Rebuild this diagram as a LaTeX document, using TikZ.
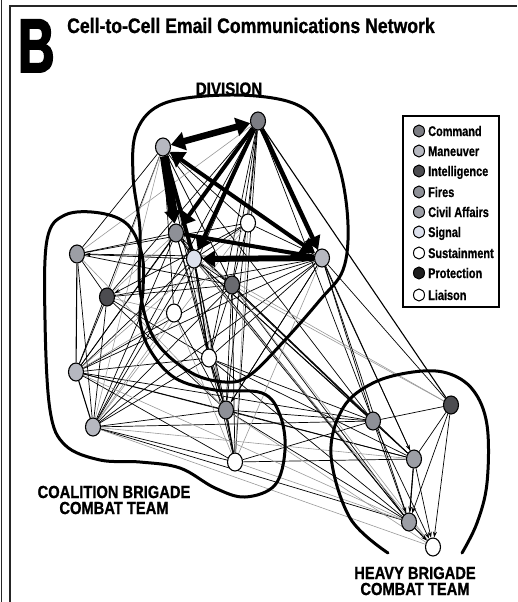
\documentclass[tikz,border=0pt]{standalone}
\usepackage{fontspec}
\setmainfont{Liberation Sans}
\newfontfamily\condfont[FakeStretch=0.84,FakeBold=1]{Liberation Sans}
\newfontfamily\legfont[FakeStretch=0.78,FakeBold=0.6]{Liberation Sans}
\newfontfamily\letterfont[FakeStretch=0.66,FakeBold=2.5]{Liberation Sans}
\usetikzlibrary{shapes.geometric,arrows.meta}
\pgfdeclarelayer{edgelayer}
\pgfdeclarelayer{hulllayer}
\pgfsetlayers{edgelayer,hulllayer,main}

% cell colours
\definecolor{cmdcol}{HTML}{7C7D83}
\definecolor{mancol}{HTML}{B6B8C0}
\definecolor{intcol}{HTML}{4C4C50}
\definecolor{firecol}{HTML}{8E9097}
\definecolor{civcol}{HTML}{9C9EA5}
\definecolor{sigcol}{HTML}{DCE0EC}
\definecolor{procol}{HTML}{1E1E1E}

\tikzset{
  cell/.style={ellipse, draw=black, line width=1.1pt, minimum width=15pt,
    minimum height=18pt, inner sep=0pt},
  legcell/.style={ellipse, draw=black, line width=1pt, minimum width=11pt,
    minimum height=12pt, inner sep=0pt},
  legtext/.style={anchor=base west, inner sep=0pt, font=\legfont\bfseries\fontsize{14}{14}\selectfont},
  grouplabel/.style={align=center, inner sep=0pt, font=\condfont\bfseries\fontsize{17.5}{16}\selectfont},
  hull/.style={line width=3pt, black, line cap=round},
  thin/.style={line width=0.7pt, black},
  faint/.style={line width=0.6pt, black!40},
  medium/.style={line width=1.1pt, black},
  tip/.style={-{Stealth[length=6pt,width=4pt]}},
  heavy/.style={black, -{Triangle[length=13pt,width=16pt]}},
  heavyboth/.style={black, {Triangle[length=14pt,width=18pt]}-{Triangle[length=14pt,width=18pt]}},
}

\begin{document}
\begin{tikzpicture}[x=1pt, y=-1pt]
\useasboundingbox (0,0) rectangle (517,602);

% frame lines
\draw[line width=1.6pt, black!85] (1.5,0) -- (1.5,602);
\draw[line width=1.6pt, black!85] (10,602) -- (10,6) -- (517,6);

% titles
\node[anchor=base west, inner sep=0pt, font=\letterfont\bfseries\fontsize{76}{76}\selectfont] (letter) at (18,72) {B};
\node[anchor=base west, inner sep=0pt, font=\condfont\bfseries\fontsize{21}{21}\selectfont] (title) at (67,33) {Cell-to-Cell Email Communications Network};
\node[anchor=base, inner sep=0pt, font=\condfont\bfseries\fontsize{18}{18}\selectfont] (divlabel) at (229,95) {DIVISION};
\node[grouplabel] (coallabel) at (114,500) {COALITION BRIGADE\\COMBAT TEAM};
\node[grouplabel] (heavylabel) at (415,581) {HEAVY BRIGADE\\COMBAT TEAM};

% division cells
\node[cell, fill=mancol] (D1) at (163,147) {};
\node[cell, fill=cmdcol] (D2) at (258,121) {};
\node[cell, fill=firecol] (D3) at (176,233) {};
\node[cell, fill=sigcol] (D4) at (194,259) {};
\node[cell, fill=white] (D5) at (248,223) {};
\node[cell, fill=mancol] (D6) at (322,258) {};
\node[cell, fill=cmdcol!85!black] (D7) at (232,285) {};
\node[cell, fill=white] (D8) at (174,313) {};
\node[cell, fill=white] (D9) at (209,358) {};
% coalition brigade cells
\node[cell, fill=civcol] (C1) at (77,254) {};
\node[cell, fill=intcol] (C2) at (107,297) {};
\node[cell, fill=mancol] (C3) at (76,372) {};
\node[cell, fill=mancol] (C4) at (93,427) {};
\node[cell, fill=firecol] (C5) at (226,410) {};
\node[cell, fill=white] (C6) at (235,462) {};
% heavy brigade cells
\node[cell, fill=firecol] (H1) at (373,421) {};
\node[cell, fill=intcol] (H2) at (451,405) {};
\node[cell, fill=civcol] (H3) at (414,459) {};
\node[cell, fill=civcol] (H4) at (409,522) {};
\node[cell, fill=white] (H5) at (433,547) {};

\begin{pgfonlayer}{edgelayer}
% thin links
\foreach \a/\b in {D1/D5,D1/D7,D1/D8,D1/D9,D2/D5,D2/D7,D2/D9,D2/D8,D3/D9,D4/D9,
  D4/D7,D5/D6,D5/D7,D6/D7,D6/D9,D7/D9,D3/D7,D4/D5,
  D1/C1,D1/C3,D2/C3,D2/C4,D3/C1,D3/C3,D3/C4,D4/C3,D4/C4,D6/C1,D6/C2,
  D6/C4,D7/C3,D7/C4,D7/C2,D9/C4,D9/C3,D6/C3,D2/C2,
  C1/C2,C1/C4,C2/C3,C2/C4,C3/C5,C4/C5,C4/C6,C3/C6,C5/C6,C2/C5,
  D2/C5,D3/C5,D4/C5,D7/C5,D9/C5,D2/C6,D4/C6,D7/C6,D9/C6,
  H1/H2,H1/H3,H1/H4,H2/H3,H3/H4,
  H1/D1,H1/D2,H1/D3,H1/D4,H1/D6,H1/D7,H3/D4,H3/D6,H3/D7,H4/D4,H4/D7,H4/D3,
  H2/D6,H1/C3,H1/C4,H1/C5,H3/C3,H3/C5,H4/C4,H4/C5,H3/C6,H1/C6,
  D5/C1,D7/C1,D9/C2,D8/C5,H1/D9,H3/D9,H4/D9,D6/C5}
  \draw[thin] (\a) -- (\b);
\foreach \a/\b in {D1/C4,D3/C2,D4/C1,D5/C4,D1/C5,D6/C6,D2/C1,D1/C2,
  C1/C5,H4/C3,H3/C4,H4/C6,H5/D7,H2/D7,H5/C5,D8/C3,D8/C4,D8/C2,D5/C3,
  H5/C4,H5/D4,D5/C6,D8/C6,H2/D4}
  \draw[faint] (\a) -- (\b);
\foreach \a/\b in {C1/C3,C3/C4,D3/D4,D9/C5,C5/C6,H2/D2}
  \draw[medium] (\a) -- (\b);
% directed links
\foreach \a/\b in {D4/C1,D6/C5,D5/C2,H2/H4,H2/H5,H3/H5,H1/H5,D6/H4,D2/H3}
  \draw[thin, tip] (\a) -- (\b);
\draw[medium, tip] (H3) -- (H4);
\draw[medium, tip] (H4) -- (H5);
\draw[medium, tip] (D4) -- (D9);
% heavy traffic inside the division
\draw[heavy, line width=4pt] (D2) -- (D3);
\draw[heavy, line width=4pt] (D2) -- (D4);
\draw[line width=4pt] (D1) -- (D4);
\draw[line width=4pt] (D3) -- (D6);
\draw[heavy, line width=4.5pt] (D2) -- (D6);
\draw[heavyboth, line width=4pt] (D1) -- (D6);
\draw[heavy, line width=6pt] (D6) -- (D4);
\draw[heavy, line width=9pt] (D1) -- (D3);
\draw[heavyboth, line width=6.5pt] (D1) -- (D2);
\end{pgfonlayer}

\begin{pgfonlayer}{hulllayer}
% division outline
\draw[hull] plot[smooth cycle, tension=0.6] coordinates {
  (137,130) (165,103) (230,95) (290,102) (320,125) (340,170) (348,225)
  (343,270) (320,300) (285,340) (250,375) (225,382) (190,372) (155,340)
  (140,290) (140,230) (133,175)};
% coalition brigade outline
\draw[hull] plot[smooth cycle, tension=0.6] coordinates {
  (47,240) (65,215) (100,213) (128,225) (142,255) (143,290) (140,320)
  (150,350) (175,378) (215,390) (262,393) (280,415) (285,450) (275,485)
  (245,497) (215,488) (180,468) (140,462) (100,460) (65,445) (50,410) (45,320)};
% heavy brigade outline
\draw[hull] plot[smooth, tension=0.6] coordinates {
  (388,553) (350,518) (331,455) (343,408) (373,383) (413,372) (447,373)
  (473,390) (487,425) (487,483) (477,523) (462,553)};
\end{pgfonlayer}

% legend
\draw[line width=1.5pt, fill=white] (403,116) rectangle (499,307);
\foreach \y/\col/\txt [count=\i] in {131/cmdcol/Command, 151/mancol/Maneuver,
  171/intcol/Intelligence, 192/firecol/Fires, 212/civcol/Civil Affairs,
  232/sigcol/Signal, 253/white/Sustainment, 273/procol/Protection, 295/white/Liaison}{
  \node[legcell, fill=\col] (lc\i) at (419,\y) {};
  \node[legtext] (lt\i) at (428,\y+5) {\txt};
}
\end{tikzpicture}
\end{document}
